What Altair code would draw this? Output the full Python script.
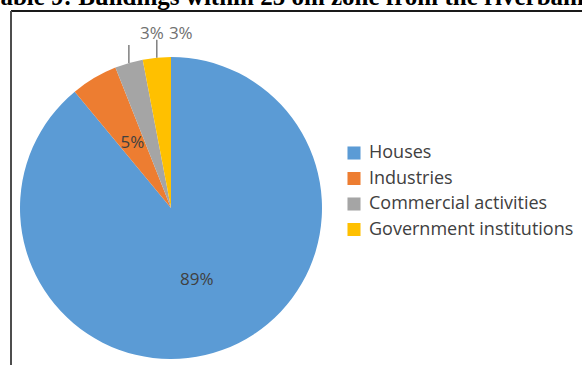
import altair as alt
import pandas as pd

categories = ["Houses", "Industries", "Commercial activities", "Government institutions"]
values = [89, 5, 3, 3]
colors = ["#5B9BD5", "#ED7D31", "#A5A5A5", "#FFC000"]
title_text = "Table 9: Buildings within 25 om zone from the riverbank"

df = pd.DataFrame({"category": categories, "value": values, "order": list(range(len(values)))})

CX, CY, R = 171, 208, 151

base = alt.Chart(df).transform_joinaggregate(
    total="sum(value)"
).transform_window(
    cum="sum(value)", sort=[alt.SortField("order")], frame=[None, 0]
).transform_calculate(
    mid="(datum.cum - datum.value/2) / datum.total * 2 * PI",
    pct="round(datum.value / datum.total * 100) + '%'",
).transform_calculate(
    ex=f"{CX} + {R} * sin(datum.mid)",
    ey=f"{CY} - {R} * cos(datum.mid)",
    ix=f"{CX} + 76 * sin(datum.mid)",
    iy=f"{CY} - 76 * cos(datum.mid)",
)

pie = alt.Chart(df).mark_arc(outerRadius=R).encode(
    theta=alt.Theta("value:Q", stack=True),
    color=alt.Color(
        "category:N",
        scale=alt.Scale(domain=categories, range=colors),
        sort=categories,
        legend=alt.Legend(
            title=None,
            orient="none",
            legendX=345,
            legendY=144,
            symbolType="square",
            symbolSize=170,
            symbolStrokeWidth=0,
            labelFont="Open Sans",
            labelFontSize=18,
            labelColor="#404040",
            rowPadding=7.5,
            labelOffset=6,
            labelLimit=400,
        ),
    ),
    order=alt.Order("order:Q"),
    x=alt.value(CX),
    y=alt.value(CY),
)

inner = base.transform_filter("datum.value >= 5").mark_text(
    font="Open Sans", fontSize=17, color="#404040", align="center", baseline="middle"
).encode(
    x=alt.X("ix:Q", scale=None, axis=None),
    y=alt.Y("iy:Q", scale=None, axis=None),
    text="pct:N",
)

small = base.transform_filter("datum.value < 5")

leaders = small.mark_rule(color="#7F7F7F", strokeWidth=1.5).encode(
    x=alt.X("ex:Q", scale=None, axis=None),
    y=alt.Y("ey:Q", scale=None, axis=None),
    y2=alt.Y2("ly:Q"),
).transform_calculate(ly="datum.ey - 18")

lab_c = small.transform_filter(f"datum.category == '{categories[2]}'").mark_text(
    font="Open Sans", fontSize=17, color="#707070", align="center", baseline="middle", dx=23
).encode(
    x=alt.X("ex:Q", scale=None, axis=None),
    y=alt.value(34),
    text="pct:N",
)
lab_g = small.transform_filter(f"datum.category == '{categories[3]}'").mark_text(
    font="Open Sans", fontSize=17, color="#707070", align="center", baseline="middle", dx=24
).encode(
    x=alt.X("ex:Q", scale=None, axis=None),
    y=alt.value(34),
    text="pct:N",
)

frame_top = alt.Chart(df).mark_rule(color="#1a1a1a", strokeWidth=2).encode(
    x=alt.value(11), x2=alt.value(582), y=alt.value(11)
)
frame_left = alt.Chart(df).mark_rule(color="#4d4d4d", strokeWidth=2).encode(
    x=alt.value(11), y=alt.value(11), y2=alt.value(365)
)

title = alt.Chart(pd.DataFrame({"t": [title_text]})).mark_text(
    font="Liberation Serif", fontSize=25, fontWeight="bold", color="#000000",
    align="left", baseline="alphabetic"
).encode(x=alt.value(-14), y=alt.value(5), text="t:N")

chart = alt.layer(pie, inner, leaders, lab_c, lab_g, frame_top, frame_left, title).properties(
    width=582, height=365, autosize=alt.AutoSizeParams(type="none"), padding=0,
    background="#ffffff",
).configure_view(stroke=None)

chart.save("out.html", embed_options={"renderer": "svg", "actions": False})
